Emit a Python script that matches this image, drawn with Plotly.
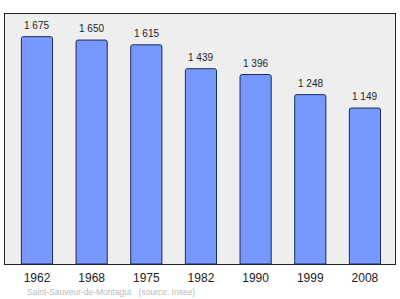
import plotly.graph_objects as go

years = ["1962", "1968", "1975", "1982", "1990", "1999", "2008"]
population = [1675, 1650, 1615, 1439, 1396, 1248, 1149]
labels = ["1 675", "1 650", "1 615", "1 439", "1 396", "1 248", "1 149"]
footer = "Saint-Sauveur-de-Montagut    (source: Insee)"

xs = list(range(len(years)))

fig = go.Figure()
fig.add_trace(go.Bar(
    x=xs, y=population, width=0.57,
    marker=dict(color="#7799ff", line=dict(color="#1a2a5a", width=1), cornerradius=2),
    hoverinfo="skip",
))
for xi, yv, lab in zip(xs, population, labels):
    fig.add_annotation(x=xi, y=yv, text=lab, showarrow=False, yanchor="bottom",
                       yshift=4, font=dict(family="Liberation Sans, Arial", size=10, color="#222222"))

fig.add_annotation(xref="paper", yref="paper", x=0.05, y=-0.11, xanchor="left", yanchor="middle",
                   text=footer.replace("    ", "&nbsp;&nbsp;&nbsp;"), showarrow=False,
                   font=dict(family="Liberation Sans, Arial", size=8.5, color="#bbbbbb"))

fig.update_layout(
    width=400, height=299,
    margin=dict(l=4.5, r=5, t=13.5, b=35),
    paper_bgcolor="white", plot_bgcolor="#eeeeee",
    showlegend=False,
    xaxis=dict(range=[-0.585, 6.55], tickmode="array", tickvals=xs, ticktext=years,
               showgrid=False, zeroline=False, showline=True, linecolor="#222222", linewidth=1,
               mirror=True, ticks="", ticklen=0, ticklabelstandoff=3,
               tickfont=dict(family="Liberation Sans, Arial", size=12, color="#222222")),
    yaxis=dict(range=[0, 1842], showgrid=False, zeroline=False, showticklabels=False,
               showline=True, linecolor="#222222", linewidth=1, mirror=True, ticks=""),
)

fig.write_html("out.html")
